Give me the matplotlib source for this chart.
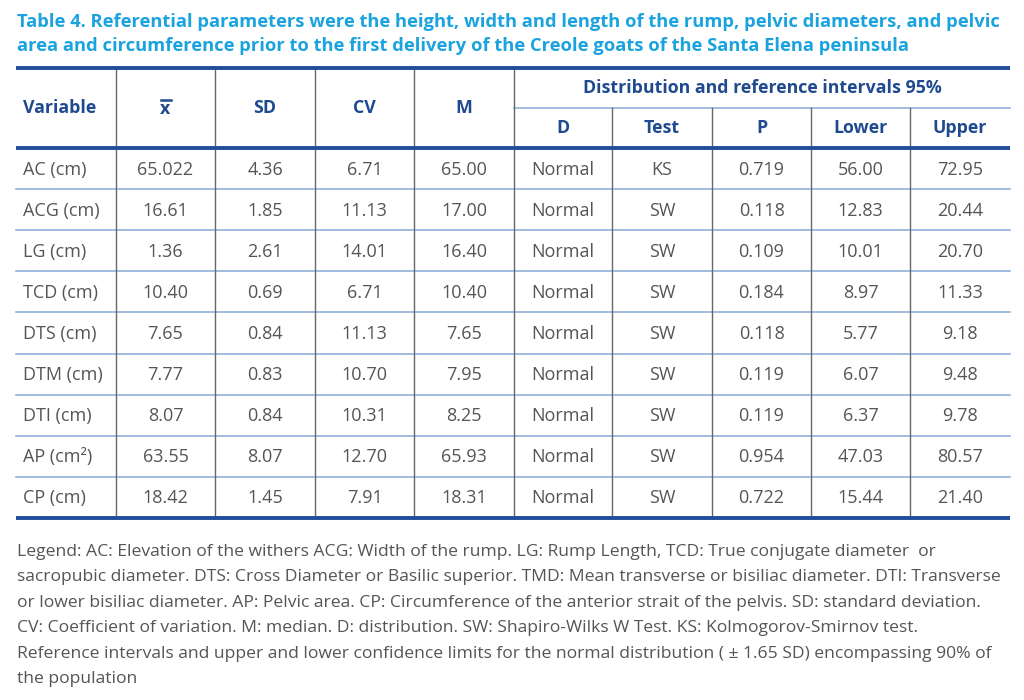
import matplotlib.pyplot as plt

# table data (as printed)
variables = ['AC (cm)', 'ACG (cm)', 'LG (cm)', 'TCD (cm)', 'DTS (cm)',
             'DTM (cm)', 'DTI (cm)', 'AP (cm²)', 'CP (cm)']
mean = ['65.022', '16.61', '1.36', '10.40', '7.65', '7.77', '8.07', '63.55', '18.42']
sd = ['4.36', '1.85', '2.61', '0.69', '0.84', '0.83', '0.84', '8.07', '1.45']
cv = ['6.71', '11.13', '14.01', '6.71', '11.13', '10.70', '10.31', '12.70', '7.91']
median = ['65.00', '17.00', '16.40', '10.40', '7.65', '7.95', '8.25', '65.93', '18.31']
dist = ['Normal'] * 9
test = ['KS', 'SW', 'SW', 'SW', 'SW', 'SW', 'SW', 'SW', 'SW']
pval = ['0.719', '0.118', '0.109', '0.184', '0.118', '0.119', '0.119', '0.954', '0.722']
lower = ['56.00', '12.83', '10.01', '8.97', '5.77', '6.07', '6.37', '47.03', '15.44']
upper = ['72.95', '20.44', '20.70', '11.33', '9.18', '9.48', '9.78', '80.57', '21.40']

title_lines = [
    'Table 4. Referential parameters were the height, width and length of the rump, pelvic diameters, and pelvic',
    'area and circumference prior to the first delivery of the Creole goats of the Santa Elena peninsula',
]
legend_lines = [
    'Legend: AC: Elevation of the withers ACG: Width of the rump. LG: Rump Length, TCD: True conjugate diameter  or',
    'sacropubic diameter. DTS: Cross Diameter or Basilic superior. TMD: Mean transverse or bisiliac diameter. DTI: Transverse',
    'or lower bisiliac diameter. AP: Pelvic area. CP: Circumference of the anterior strait of the pelvis. SD: standard deviation.',
    'CV: Coefficient of variation. M: median. D: distribution. SW: Shapiro-Wilks W Test. KS: Kolmogorov-Smirnov test.',
    'Reference intervals and upper and lower confidence limits for the normal distribution ( ± 1.65 SD) encompassing 90% of',
    'the population',
]

plt.rcParams['font.family'] = ['Open Sans', 'DejaVu Sans']
TITLE_C = '#1ba3e0'
HEAD_C = '#1f4a8f'
BODY_C = '#555555'
THICK_C = '#1f4e9a'
THIN_C = '#8fb2dc'
VLINE_C = '#666666'

fig = plt.figure(figsize=(10.24, 7.0), dpi=100)
ax = fig.add_axes([0, 0, 1, 1])
ax.set_xlim(0, 1024)
ax.set_ylim(700, 0)
ax.axis('off')

for k, line in enumerate(title_lines):
    ax.text(17, 22 + k * 24, line, color=TITLE_C, fontsize=13.25, fontweight='bold',
            va='center', ha='left')

cols = [16, 116, 215, 315, 414, 514, 612, 712, 811, 910, 1010]
y_top, y_sub, y_head = 68, 108, 148
row_h = 41.1
n = len(variables)
y_bot = y_head + n * row_h

# lines
for i in range(1, n):
    y = y_head + i * row_h
    ax.plot([cols[0], cols[-1]], [y, y], color=THIN_C, lw=1.2)
ax.plot([cols[5], cols[-1]], [y_sub, y_sub], color=THIN_C, lw=1.2)
for x in cols[1:-1]:
    y0 = y_sub if x in cols[6:-1] else y_top
    ax.plot([x, x], [y0, y_bot], color=VLINE_C, lw=1.0)
for y in (y_top, y_head, y_bot):
    ax.plot([cols[0], cols[-1]], [y, y], color=THICK_C, lw=2.8, solid_capstyle='butt')

# header
hkw = dict(color=HEAD_C, fontsize=12.8, fontweight='bold', va='center', ha='center')
ax.text(23, (y_top + y_head) / 2, 'Variable', **dict(hkw, ha='left'))
cx = lambda j: (cols[j] + cols[j + 1]) / 2
ax.text(cx(1), (y_top + y_head) / 2 + 1, 'x', **hkw)
ax.plot([cx(1) - 5, cx(1) + 5], [100, 100], color=HEAD_C, lw=1.8)
for j, lab in zip((2, 3, 4), ('SD', 'CV', 'M')):
    ax.text(cx(j), (y_top + y_head) / 2, lab, **hkw)
ax.text((cols[5] + cols[-1]) / 2, (y_top + y_sub) / 2, 'Distribution and reference intervals 95%', **hkw)
for j, lab in zip(range(5, 10), ('D', 'Test', 'P', 'Lower', 'Upper')):
    ax.text(cx(j), (y_sub + y_head) / 2, lab, **hkw)

# body
bkw = dict(color=BODY_C, fontsize=13, va='center', ha='center')
columns = [mean, sd, cv, median, dist, test, pval, lower, upper]
for i in range(n):
    yc = y_head + (i + 0.5) * row_h + 1
    ax.text(23, yc, variables[i], **dict(bkw, ha='left'))
    for j, col in enumerate(columns, start=1):
        ax.text(cx(j), yc, col[i], **bkw)

# footnote
for k, line in enumerate(legend_lines):
    ax.text(17, 552 + k * 25.4, line, color=BODY_C, fontsize=12.6, va='center', ha='left')

fig.savefig('out.png', dpi=100, facecolor='white')
